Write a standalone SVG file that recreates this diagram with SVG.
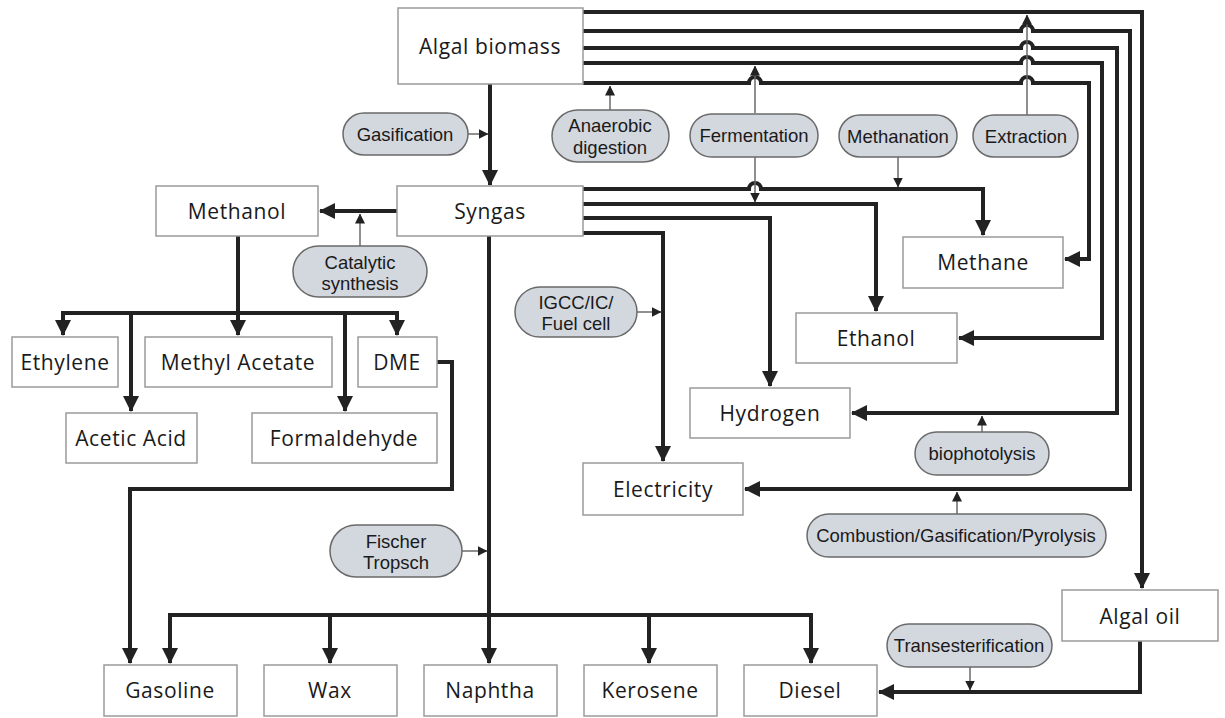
<svg xmlns="http://www.w3.org/2000/svg" width="1225" height="718" viewBox="0 0 1225 718">
<style>
.box{fill:#fff;stroke:#9a9a9a;stroke-width:1.5}
.pill{fill:#d3d7de;stroke:#6a6a6a;stroke-width:1.5}
.lbl{font-family:"Open Sans","DejaVu Sans",sans-serif;font-size:21px;letter-spacing:0.6px;fill:#1a1a1a;text-anchor:middle;dominant-baseline:central}
.plbl{font-family:"Liberation Sans",Arial,sans-serif;font-size:18.5px;fill:#1a1a1a;text-anchor:middle;dominant-baseline:central}
.thick{fill:none;stroke:#222;stroke-width:4;stroke-linejoin:miter}
.arr{marker-end:url(#ah)}
.thin{fill:none;stroke:#6a6a6a;stroke-width:1.5;marker-end:url(#th)}
</style>
<defs>
<marker id="ah" markerUnits="userSpaceOnUse" markerWidth="16" markerHeight="16" viewBox="0 0 16 16" refX="15" refY="8" orient="auto"><path d="M0,0 L16,8 L0,16 z" fill="#222"/></marker>
<marker id="th" markerUnits="userSpaceOnUse" markerWidth="10" markerHeight="10" viewBox="0 0 10 10" refX="9.5" refY="5" orient="auto"><path d="M0,0 L10,5 L0,10 z" fill="#222"/></marker>
</defs>
<rect width="1225" height="718" fill="#fff"/>

<g id="connectors">
<path class="thick arr" d="M583,12 H1142 V588"/>
<path class="thick arr" d="M583,31 H1021 A6,6 0 0 1 1033,31 H1130 V489 H745"/>
<path class="thick arr" d="M583,48 H1021 A6,6 0 0 1 1033,48 H1117 V413 H852"/>
<path class="thick arr" d="M583,63 H1021 A6,6 0 0 1 1033,63 H1102 V338 H959"/>
<path class="thick arr" d="M583,83 H749 A6,6 0 0 1 761,83 H1021 A6,6 0 0 1 1033,83 H1089 V259 H1065"/>
<path class="thick arr" d="M490,84 V185"/>
<path class="thick arr" d="M583,189 H749 A6,6 0 0 1 761,189 H983 V235"/>
<path class="thick arr" d="M583,204 H876 V311"/>
<path class="thick arr" d="M583,218 H770 V386"/>
<path class="thick arr" d="M583,233 H663 V461"/>
<path class="thick arr" d="M397,211 H320"/>
<path class="thick arr" d="M489,236 V663"/>
<path class="thick arr" d="M238,236 V335"/>
<path class="thick arr" d="M238,313 H63 V335"/>
<path class="thick arr" d="M238,313 H397 V335"/>
<path class="thick arr" d="M131,313 V411"/>
<path class="thick arr" d="M345,313 V411"/>
<path class="thick arr" d="M437,362 H452 V489 H130 V663"/>
<path class="thick arr" d="M489,615 H170 V663"/>
<path class="thick arr" d="M489,615 H811 V663"/>
<path class="thick arr" d="M330,615 V663"/>
<path class="thick arr" d="M649,615 V663"/>
<path class="thick arr" d="M1140,641 V692 H879"/>
<path class="thin" d="M468,134 H488"/>
<path class="thin" d="M610,110 V86"/>
<path class="thin" d="M755,113 V66"/>
<path class="thin" d="M755,157 V202"/>
<path class="thin" d="M898,157 V187"/>
<path class="thin" d="M1027,115 V15"/>
<path class="thin" d="M360,246 V214"/>
<path class="thin" d="M637,312 H661"/>
<path class="thin" d="M462,551 H487"/>
<path class="thin" d="M982,432 V416"/>
<path class="thin" d="M957,514 V492"/>
<path class="thin" d="M970,667 V690"/>
</g>

<g id="n-algal-biomass"><rect class="box" x="398" y="8" width="185" height="76"/><text class="lbl" x="490" y="46">Algal biomass</text></g>
<g id="n-syngas"><rect class="box" x="397" y="186" width="186" height="50"/><text class="lbl" x="490" y="211">Syngas</text></g>
<g id="n-methanol"><rect class="box" x="156" y="186" width="162" height="50"/><text class="lbl" x="237" y="211">Methanol</text></g>
<g id="n-ethylene"><rect class="box" x="12" y="337" width="106" height="50"/><text class="lbl" x="65" y="362">Ethylene</text></g>
<g id="n-methyl-acetate"><rect class="box" x="145" y="337" width="187" height="50"/><text class="lbl" x="238" y="362">Methyl Acetate</text></g>
<g id="n-dme"><rect class="box" x="358" y="337" width="79" height="50"/><text class="lbl" x="397" y="362">DME</text></g>
<g id="n-acetic-acid"><rect class="box" x="66" y="413" width="131" height="50"/><text class="lbl" x="131" y="438">Acetic Acid</text></g>
<g id="n-formaldehyde"><rect class="box" x="252" y="413" width="185" height="50"/><text class="lbl" x="344" y="438">Formaldehyde</text></g>
<g id="n-methane"><rect class="box" x="903" y="237" width="160" height="51"/><text class="lbl" x="983" y="262">Methane</text></g>
<g id="n-ethanol"><rect class="box" x="796" y="313" width="161" height="50"/><text class="lbl" x="876" y="338">Ethanol</text></g>
<g id="n-hydrogen"><rect class="box" x="690" y="388" width="160" height="50"/><text class="lbl" x="770" y="413">Hydrogen</text></g>
<g id="n-electricity"><rect class="box" x="583" y="463" width="160" height="52"/><text class="lbl" x="663" y="489">Electricity</text></g>
<g id="n-algal-oil"><rect class="box" x="1062" y="590" width="156" height="51"/><text class="lbl" x="1140" y="616">Algal oil</text></g>
<g id="n-gasoline"><rect class="box" x="104" y="665" width="133" height="51"/><text class="lbl" x="170" y="690">Gasoline</text></g>
<g id="n-wax"><rect class="box" x="264" y="665" width="133" height="51"/><text class="lbl" x="330" y="690">Wax</text></g>
<g id="n-naphtha"><rect class="box" x="424" y="665" width="133" height="51"/><text class="lbl" x="490" y="690">Naphtha</text></g>
<g id="n-kerosene"><rect class="box" x="584" y="665" width="133" height="51"/><text class="lbl" x="650" y="690">Kerosene</text></g>
<g id="n-diesel"><rect class="box" x="744" y="665" width="133" height="51"/><text class="lbl" x="810" y="690">Diesel</text></g>

<g id="p-gasification"><rect class="pill" x="343" y="113" width="125" height="42" rx="21"/><text class="plbl" x="405" y="134">Gasification</text></g>
<g id="p-anaerobic"><rect class="pill" x="552" y="110" width="117" height="52" rx="26"/><text class="plbl" x="610" y="125">Anaerobic</text><text class="plbl" x="610" y="147">digestion</text></g>
<g id="p-fermentation"><rect class="pill" x="690" y="114" width="128" height="43" rx="21.5"/><text class="plbl" x="754" y="135">Fermentation</text></g>
<g id="p-methanation"><rect class="pill" x="839" y="115" width="118" height="42" rx="21"/><text class="plbl" x="898" y="136">Methanation</text></g>
<g id="p-extraction"><rect class="pill" x="973" y="115" width="105" height="42" rx="21"/><text class="plbl" x="1026" y="136">Extraction</text></g>
<g id="p-catalytic"><rect class="pill" x="293" y="246" width="134" height="51" rx="25.5"/><text class="plbl" x="360" y="262">Catalytic</text><text class="plbl" x="360" y="283">synthesis</text></g>
<g id="p-igcc"><rect class="pill" x="515" y="287" width="122" height="50" rx="25"/><text class="plbl" x="576" y="302">IGCC/IC/</text><text class="plbl" x="576" y="323">Fuel cell</text></g>
<g id="p-fischer"><rect class="pill" x="330" y="525" width="132" height="52" rx="26"/><text class="plbl" x="396" y="541">Fischer</text><text class="plbl" x="396" y="562">Tropsch</text></g>
<g id="p-biophotolysis"><rect class="pill" x="915" y="432" width="134" height="43" rx="21.5"/><text class="plbl" x="982" y="453">biophotolysis</text></g>
<g id="p-combustion"><rect class="pill" x="807" y="514" width="299" height="43" rx="21.5"/><text class="plbl" x="956" y="535">Combustion/Gasification/Pyrolysis</text></g>
<g id="p-transesterification"><rect class="pill" x="887" y="624" width="165" height="43" rx="21.5"/><text class="plbl" x="969" y="645">Transesterification</text></g>
</svg>
